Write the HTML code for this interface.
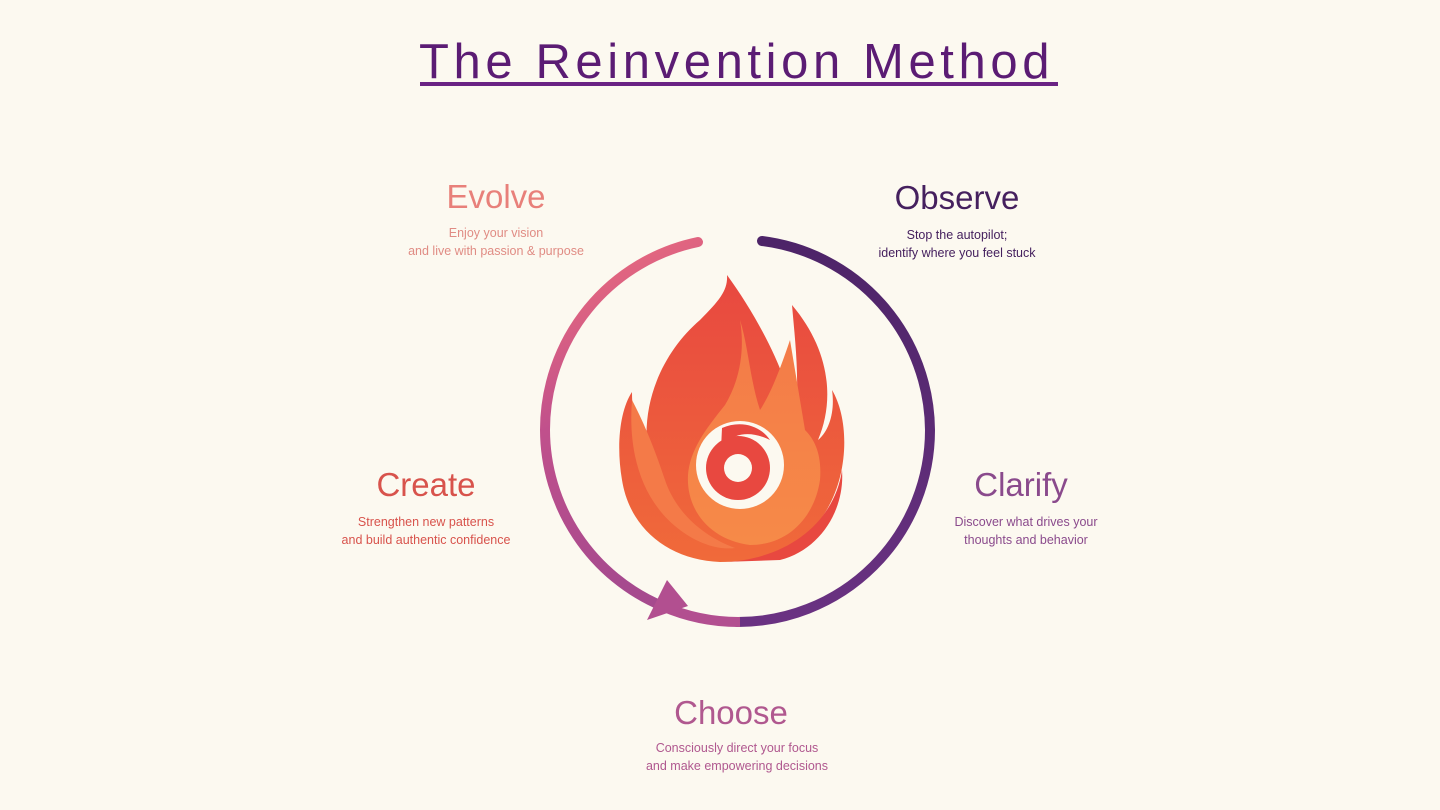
<!DOCTYPE html>
<html><head><meta charset="utf-8"><style>
html,body{margin:0;padding:0;background:#fcf9f0;}
body{width:1440px;height:810px;position:relative;overflow:hidden;font-family:"Liberation Sans",sans-serif;}
.t{position:absolute;text-align:center;width:400px;}
.h{font-size:33px;line-height:38px;}
.s{font-size:12.5px;line-height:18px;}
#title{position:absolute;left:419px;top:32px;white-space:nowrap;font-size:49px;letter-spacing:4.6px;color:#5b1c74;line-height:60px;}
#ul{position:absolute;left:420px;width:638px;top:82px;height:4px;background:#6a2384;}
</style></head><body>
<div id="title">The Reinvention Method</div>
<div id="ul"></div>
<svg width="1440" height="810" style="position:absolute;left:0;top:0">
<defs>
<linearGradient id="rg" x1="0" y1="0" x2="0" y2="1">
<stop offset="0" stop-color="#4d2468"/><stop offset="1" stop-color="#6a3282"/></linearGradient>
<linearGradient id="lg" x1="0" y1="0" x2="0.2" y2="1">
<stop offset="0" stop-color="#f2707a"/><stop offset="0.5" stop-color="#c0508c"/><stop offset="1" stop-color="#a64a8e"/></linearGradient>
<linearGradient id="fo" x1="0" y1="0" x2="0" y2="1"><stop offset="0" stop-color="#e84840"/><stop offset="1" stop-color="#f06a3a"/></linearGradient>
<linearGradient id="fi" x1="0" y1="0" x2="0" y2="1"><stop offset="0" stop-color="#f47a48"/><stop offset="1" stop-color="#f68a48"/></linearGradient>
</defs>
<path d="M762 241 A192 192 0 0 1 930 430 A192 192 0 0 1 737 622" fill="none" stroke="url(#rg)" stroke-width="10" stroke-linecap="round"/>
<path d="M740 622 A192 192 0 0 1 662 606" fill="none" stroke="#b24f90" stroke-width="10"/>
<path d="M662 606 A192 192 0 0 1 545 430 A192 192 0 0 1 698 242" fill="none" stroke="url(#lg)" stroke-width="10" stroke-linecap="round"/>
<polygon points="647,620 667,580 688,606" fill="#b24f90"/>
<path d="M727 275 C760 320 790 380 795 420 C800 380 795 340 792 305 C830 350 835 400 818 440 C830 430 835 410 832 390 C850 420 850 480 820 520 C795 552 760 562 720 562 C670 560 630 530 622 480 C616 445 620 410 632 392 C632 420 638 440 648 455 C640 400 665 350 700 320 C720 300 728 290 727 275 Z" fill="url(#fo)"/>
<path d="M740 320 C745 350 740 380 725 405 C705 430 690 450 688 475 C686 510 710 540 750 545 C790 545 815 515 820 480 C822 455 815 440 805 430 C800 400 795 370 790 340 C780 370 770 395 760 410 C750 380 748 345 740 320 Z" fill="url(#fi)"/>
<path d="M632 400 C628 450 640 500 680 530 C700 545 720 550 735 548 C700 535 675 510 665 480 C655 450 645 425 632 400 Z" fill="#f47a48"/>
<circle cx="740" cy="465" r="44" fill="#fcf9f0"/>
<circle cx="738" cy="468" r="32" fill="#e84840"/>
<circle cx="738" cy="468" r="14" fill="#fcf9f0"/>
<path d="M720 470 C715 440 740 425 770 440 C760 425 740 420 722 428 Z" fill="#e84840"/>
<path d="M722 562 C790 560 835 520 842 470 C845 510 820 550 780 560 Z" fill="#e84840"/>
</svg>
<div class="t h" style="left:296px;top:178px;color:#e8807a">Evolve</div>
<div class="t s" style="left:296px;top:224px;color:#e08c84">Enjoy your vision<br>and live with passion &amp; purpose</div>
<div class="t h" style="left:757px;top:179px;color:#45205e">Observe</div>
<div class="t s" style="left:757px;top:226px;color:#45205e">Stop the autopilot;<br>identify where you feel stuck</div>
<div class="t h" style="left:226px;top:466px;color:#d8534c">Create</div>
<div class="t s" style="left:226px;top:513px;color:#d8534c">Strengthen new patterns<br>and build authentic confidence</div>
<div class="t h" style="left:821px;top:466px;color:#8a4a8c">Clarify</div>
<div class="t s" style="left:826px;top:513px;color:#8a4a8c">Discover what drives your<br>thoughts and behavior</div>
<div class="t h" style="left:531px;top:694px;color:#b0588f">Choose</div>
<div class="t s" style="left:537px;top:739px;color:#b0588f">Consciously direct your focus<br>and make empowering decisions</div>
</body></html>
